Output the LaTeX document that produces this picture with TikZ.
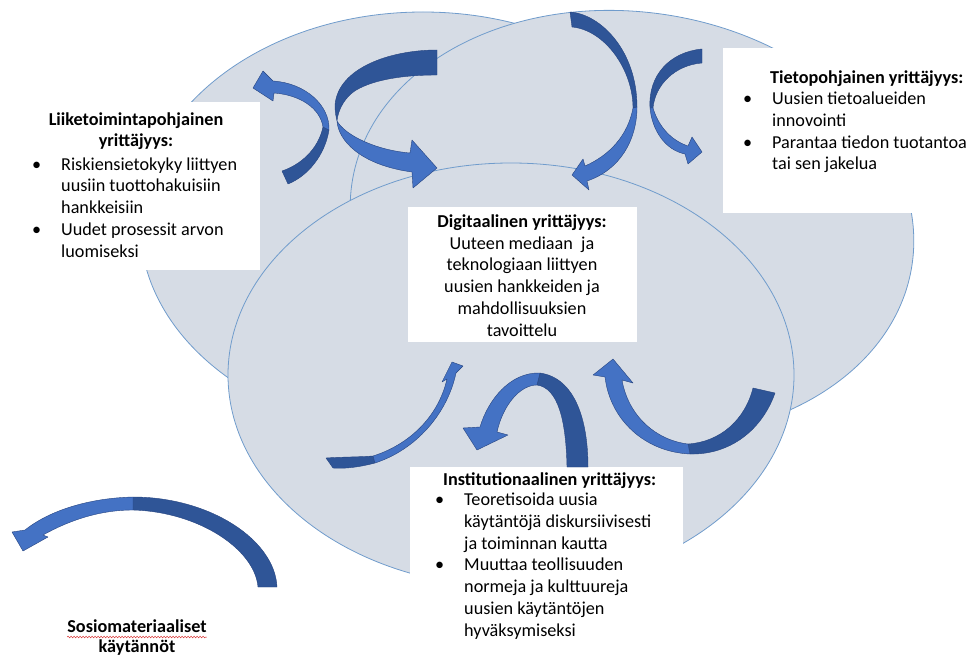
\documentclass[tikz,border=0pt]{standalone}
\usepackage{fontspec}
\setmainfont{Carlito}
\usetikzlibrary{decorations.pathmorphing}

\definecolor{ovalfill}{RGB}{214,220,229}
\definecolor{ovalline}{RGB}{112,156,204}
\definecolor{arrowlight}{RGB}{68,114,196}
\definecolor{arrowdark}{RGB}{47,85,151}
\definecolor{arrowedge}{RGB}{38,68,128}
\definecolor{spellred}{RGB}{215,45,45}

\newcommand{\bul}{\makebox[29pt][l]{\textbullet}}
\newcommand{\ind}{\hspace*{29pt}}

\tikzset{
  oval/.style={fill=ovalfill, draw=ovalline, line width=0.8pt},
  whitebox/.style={fill=white},
  front/.style={fill=arrowlight, draw=arrowedge, line width=0.4pt, line join=round},
  back/.style={fill=arrowdark, draw=arrowedge, line width=0.4pt, line join=round},
  boxtext/.style={inner sep=0pt, font=\fontsize{18.2}{21.7}\selectfont},
  boxtitle/.style={boxtext, font=\fontsize{18.2}{21.7}\selectfont\bfseries}
}

\begin{document}
\begin{tikzpicture}[x=1pt,y=-1pt]

\useasboundingbox (0,0) rectangle (971,655);

%%%%%%%%%%%%%%%%%%%%%%%%%%%%%%%%%%%%%%%%%%%%%%%%%%
% Ovals
%%%%%%%%%%%%%%%%%%%%%%%%%%%%%%%%%%%%%%%%%%%%%%%%%%

\draw[oval] (423,224) ellipse [x radius=283, y radius=212];
\draw[oval, rotate around={-8:(632,224)}] (632,224) ellipse [x radius=283, y radius=212];
\draw[oval] (511,375) ellipse [x radius=283, y radius=212];

%%%%%%%%%%%%%%%%%%%%%%%%%%%%%%%%%%%%%%%%%%%%%%%%%%
% White boxes
%%%%%%%%%%%%%%%%%%%%%%%%%%%%%%%%%%%%%%%%%%%%%%%%%%

\fill[whitebox] (8,102) rectangle (260,270);
\fill[whitebox] (723,48) rectangle (971,213);
\fill[whitebox] (408,207) rectangle (637,342);
\fill[whitebox] (410,467) rectangle (683,655);

%%%%%%%%%%%%%%%%%%%%%%%%%%%%%%%%%%%%%%%%%%%%%%%%%%
% Curved arrows
%%%%%%%%%%%%%%%%%%%%%%%%%%%%%%%%%%%%%%%%%%%%%%%%%%

% Top left, small
\draw[back]
(288,184) .. controls (308,176) and (325,155) .. (329,130)
-- (323,127) .. controls (318,150) and (300,165) .. (282,171) -- cycle;
\draw[front]
(329,130) .. controls (330,105) and (305,83) .. (273,81)
-- (263,71) -- (253,88) -- (273,101) -- (274,93)
.. controls (300,95) and (320,108) .. (323,127) -- cycle;

% Top left, large
\draw[back]
(437,50) .. controls (390,50) and (338,68) .. (335,105)
.. controls (335,112) and (336,117) .. (337,121)
.. controls (338,110) and (345,95) .. (360,88)
.. controls (380,78) and (410,75) .. (437,75) -- cycle;
\draw[front]
(337,121) .. controls (338,140) and (360,165) .. (412,172)
-- (413,188) -- (437,168) -- (412,140) -- (410,153)
.. controls (375,150) and (345,135) .. (337,121) -- cycle;

% Top right, large
\draw[back]
(570,12) .. controls (600,14) and (637,50) .. (637,107)
-- (633,108) .. controls (633,70) and (605,30) .. (572,27) -- cycle;
\draw[front]
(637,107) .. controls (637,140) and (620,170) .. (587,181)
-- (589,190) -- (572,175) -- (583,159) -- (585,166)
.. controls (610,155) and (628,135) .. (633,108) -- cycle;

% Top right, small
\draw[back]
(702,49) .. controls (670,52) and (648,75) .. (650,108)
-- (653,108) .. controls (655,85) and (675,65) .. (702,63) -- cycle;
\draw[front]
(650,108) .. controls (652,130) and (665,150) .. (685,154)
-- (688,164) -- (702,152) -- (692,137) -- (688,146)
.. controls (670,140) and (658,125) .. (653,108) -- cycle;

% Bottom, left small
\draw[back]
(326,458) -- (333,468) .. controls (345,469) and (360,467) .. (375,463)
-- (373,456) .. controls (360,457) and (340,457) .. (326,458) -- cycle;
\draw[front]
(375,463) .. controls (415,450) and (447,415) .. (456,373)
-- (463,366) -- (452,362) -- (442,382) -- (447,379)
.. controls (438,418) and (408,445) .. (373,456) -- cycle;

% Bottom, middle arch
\draw[back]
(588,467) .. controls (588,420) and (575,378) .. (540,373)
-- (537,385) .. controls (558,388) and (566,420) .. (567,467) -- cycle;
\draw[front]
(540,373) .. controls (510,372) and (488,400) .. (480,427)
-- (463,428) -- (477,450) -- (508,435) -- (497,432)
.. controls (503,405) and (520,385) .. (537,385) -- cycle;

% Bottom, right bowl
\draw[back]
(775,393) .. controls (762,430) and (730,455) .. (690,454)
-- (688,444) .. controls (720,442) and (745,420) .. (753,388) -- cycle;
\draw[front]
(690,454) .. controls (645,452) and (610,420) .. (605,377)
-- (593,375) -- (613,359) -- (633,383) -- (622,380)
.. controls (628,415) and (655,440) .. (688,444) -- cycle;

% Lower left, large
\draw[back]
(277,587) .. controls (275,540) and (210,497) .. (133,497)
-- (133,510) .. controls (200,512) and (255,550) .. (258,587) -- cycle;
\draw[front]
(133,497) .. controls (90,498) and (50,510) .. (25,530)
-- (12,532) -- (23,551) -- (48,537) -- (43,535)
.. controls (70,520) and (100,510) .. (133,510) -- cycle;

%%%%%%%%%%%%%%%%%%%%%%%%%%%%%%%%%%%%%%%%%%%%%%%%%%
% Texts (base = baseline of the last line)
%%%%%%%%%%%%%%%%%%%%%%%%%%%%%%%%%%%%%%%%%%%%%%%%%%

% Business based
\node[boxtitle, anchor=base, align=center] (liiketitle) at (136,147)
{Liiketoimintapohjainen\\yrittäjyys:};
\node[boxtext, anchor=base west, align=left] (liikelist) at (32,257)
{\bul Riskiensietokyky liittyen\\
 \ind uusiin tuottohakuisiin\\
 \ind hankkeisiin\\
 \bul Uudet prosessit arvon\\
 \ind luomiseksi};

% Knowledge based
\node[boxtitle, anchor=base west] (tietotitle) at (770,84)
{Tietopohjainen yrittäjyys:};
\node[boxtext, anchor=base west, align=left] (tietolist) at (743,170)
{\bul Uusien tietoalueiden\\
 \ind innovointi\\
 \bul Parantaa tiedon tuotantoa\\
 \ind tai sen jakelua};

% Digital
\node[boxtext, anchor=base, align=center] (digitext) at (522,336)
{\textbf{Digitaalinen yrittäjyys:}\\
 Uuteen mediaan\ \ ja\\
 teknologiaan liittyen\\
 uusien hankkeiden ja\\
 mahdollisuuksien\\
 tavoittelu};

% Institutional
\node[boxtitle, anchor=base west] (instititle) at (443,485)
{Institutionaalinen yrittäjyys:};
\node[boxtext, anchor=base west, align=left] (instilist) at (435,636)
{\bul Teoretisoida uusia\\
 \ind käytäntöjä diskursiivisesti\\
 \ind ja toiminnan kautta\\
 \bul Muuttaa teollisuuden\\
 \ind normeja ja kulttuureja\\
 \ind uusien käytäntöjen\\
 \ind hyväksymiseksi};

% Socio-material
\node[boxtitle, anchor=base, align=center,
      font=\fontsize{18.2}{20}\selectfont\bfseries] (sosiotext) at (137,652)
{Sosiomateriaaliset\\käytännöt};
\draw[spellred, line width=0.5pt, decorate,
      decoration={snake, amplitude=0.8pt, segment length=3pt}]
(sosiotext.west |- 0,637) -- (sosiotext.east |- 0,637);

\end{tikzpicture}
\end{document}
